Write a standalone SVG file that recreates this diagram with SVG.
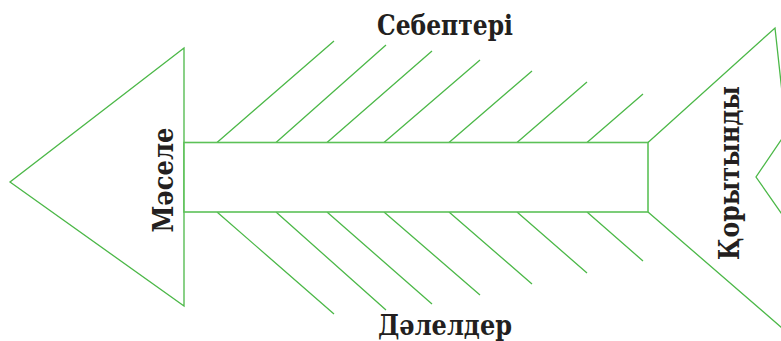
<svg xmlns="http://www.w3.org/2000/svg" width="781" height="341" viewBox="0 0 781 341">
<style>
.ln{fill:none;stroke:#4cb848;stroke-width:1.3;stroke-linejoin:miter}
.bx{fill:#fff;stroke:#5cc158;stroke-width:1.6}
.lb{font-family:"DejaVu Serif","Liberation Serif",serif;font-weight:bold;font-size:28px;fill:#231f20}
</style>
<rect width="781" height="341" fill="#fff"/>
<g id="connectors">
<path class="ln" d="M217,142.5L334,41M276,142.5L386,45M327,142.5L432,51M384,142.5L480,60M449,142.5L532,71M517,142.5L587,82M587,142.5L643,94"/>
<path class="ln" d="M217,212L334,314M276,212L386,310M327,212L432,304M384,212L480,295M449,212L532,284M517,212L587,273M587,212L643,261"/>
</g>
<g id="head">
<polygon class="ln" points="184,48 10,182 184,306"/>
<text class="lb" transform="translate(173,180) rotate(-90)" text-anchor="middle" textLength="105" lengthAdjust="spacingAndGlyphs">Мәселе</text>
</g>
<g id="body">
<rect class="bx" x="184" y="142.5" width="464" height="69.5"/>
</g>
<g id="tail">
<path class="ln" d="M648,142.5L775,28L790,165M800,112L756,177L800,240M648,212L782,328L786,290"/>
<text class="lb" transform="translate(739,173) rotate(-90)" text-anchor="middle" textLength="174" lengthAdjust="spacingAndGlyphs">Қорытынды</text>
</g>
<g id="causes">
<text class="lb" x="445" y="35" text-anchor="middle" textLength="136" lengthAdjust="spacingAndGlyphs">Себептері</text>
</g>
<g id="effects">
<text class="lb" x="445" y="335" text-anchor="middle" textLength="134" lengthAdjust="spacingAndGlyphs">Дәлелдер</text>
</g>
</svg>
